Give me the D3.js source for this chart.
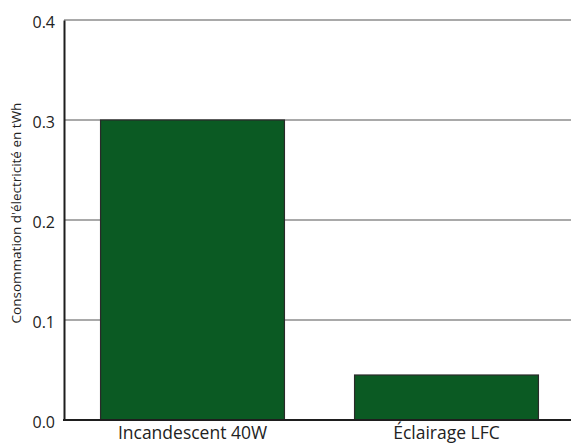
<!DOCTYPE html>
<html>
<head>
<meta charset="utf-8">
<script src="https://cdn.jsdelivr.net/npm/d3@7"></script>
<style>
  html, body { margin: 0; padding: 0; background: #fff; }
  text { font-family: "Open Sans", "Noto Sans", sans-serif; fill: #222; }
</style>
</head>
<body>
<svg id="chart" width="571" height="446"></svg>
<script>
// Electricity consumption per lighting type (TWh)
const categories = ["Incandescent 40W", "Éclairage LFC"];
const consumption = [0.3, 0.045];
const yTicks = [0.0, 0.1, 0.2, 0.3, 0.4];
const yTitle = "Consommation d'électricité en tWh";

const svg = d3.select("#chart");
const plotLeft = 64, plotRight = 571, plotTop = 20, plotBottom = 420;

const x = d3.scaleBand()
  .domain(categories)
  .range([plotLeft + 1.5, plotRight + 2.5])
  .paddingInner(0.276)
  .paddingOuter(0.138);

const y = d3.scaleLinear()
  .domain([0, 0.4])
  .range([plotBottom, plotTop]);

// Horizontal gridlines
svg.append("g")
  .selectAll("line")
  .data(yTicks.filter(d => d > 0))
  .join("line")
  .attr("x1", plotLeft)
  .attr("x2", plotRight)
  .attr("y1", d => y(d))
  .attr("y2", d => y(d))
  .attr("stroke", "#8c8c8c")
  .attr("stroke-width", 1.5);

// Bars
svg.append("g")
  .selectAll("rect")
  .data(categories.map((c, i) => ({ c, v: consumption[i] })))
  .join("rect")
  .attr("x", d => x(d.c))
  .attr("y", d => y(d.v))
  .attr("width", x.bandwidth())
  .attr("height", d => y(0) - y(d.v))
  .attr("fill", "#0b5a23")
  .attr("stroke", "#2a2a2a")
  .attr("stroke-width", 1.2);

// Y axis
const yAxis = d3.axisLeft(y)
  .tickValues(yTicks)
  .tickFormat(d3.format(".1f"))
  .tickSize(0)
  .tickPadding(9);
const gy = svg.append("g")
  .attr("transform", `translate(${plotLeft},0)`)
  .call(yAxis);
gy.select(".domain").attr("stroke", "#1e1e1e").attr("stroke-width", 2);
gy.selectAll(".tick text")
  .attr("dy", "0.48em")
  .style("font-size", "16px")
  .style("font-family", "'Open Sans', sans-serif")
  .attr("fill", "#222");

// X axis
const xAxis = d3.axisBottom(x).tickSize(0).tickPadding(7);
const gx = svg.append("g")
  .attr("transform", `translate(0,${plotBottom})`)
  .call(xAxis);
gx.select(".domain").remove();
gx.append("line")
  .attr("x1", plotLeft - 1)
  .attr("x2", plotRight)
  .attr("stroke", "#1e1e1e")
  .attr("stroke-width", 2);
gx.selectAll(".tick text")
  .style("font-size", "17.5px")
  .style("font-family", "'Open Sans', sans-serif")
  .attr("fill", "#222");

// Y axis title
svg.append("text")
  .attr("transform", `translate(16,213) rotate(-90)`)
  .attr("text-anchor", "middle")
  .attr("dy", "0.35em")
  .style("font-size", "13.5px")
  .text(yTitle);
</script>
</body>
</html>
